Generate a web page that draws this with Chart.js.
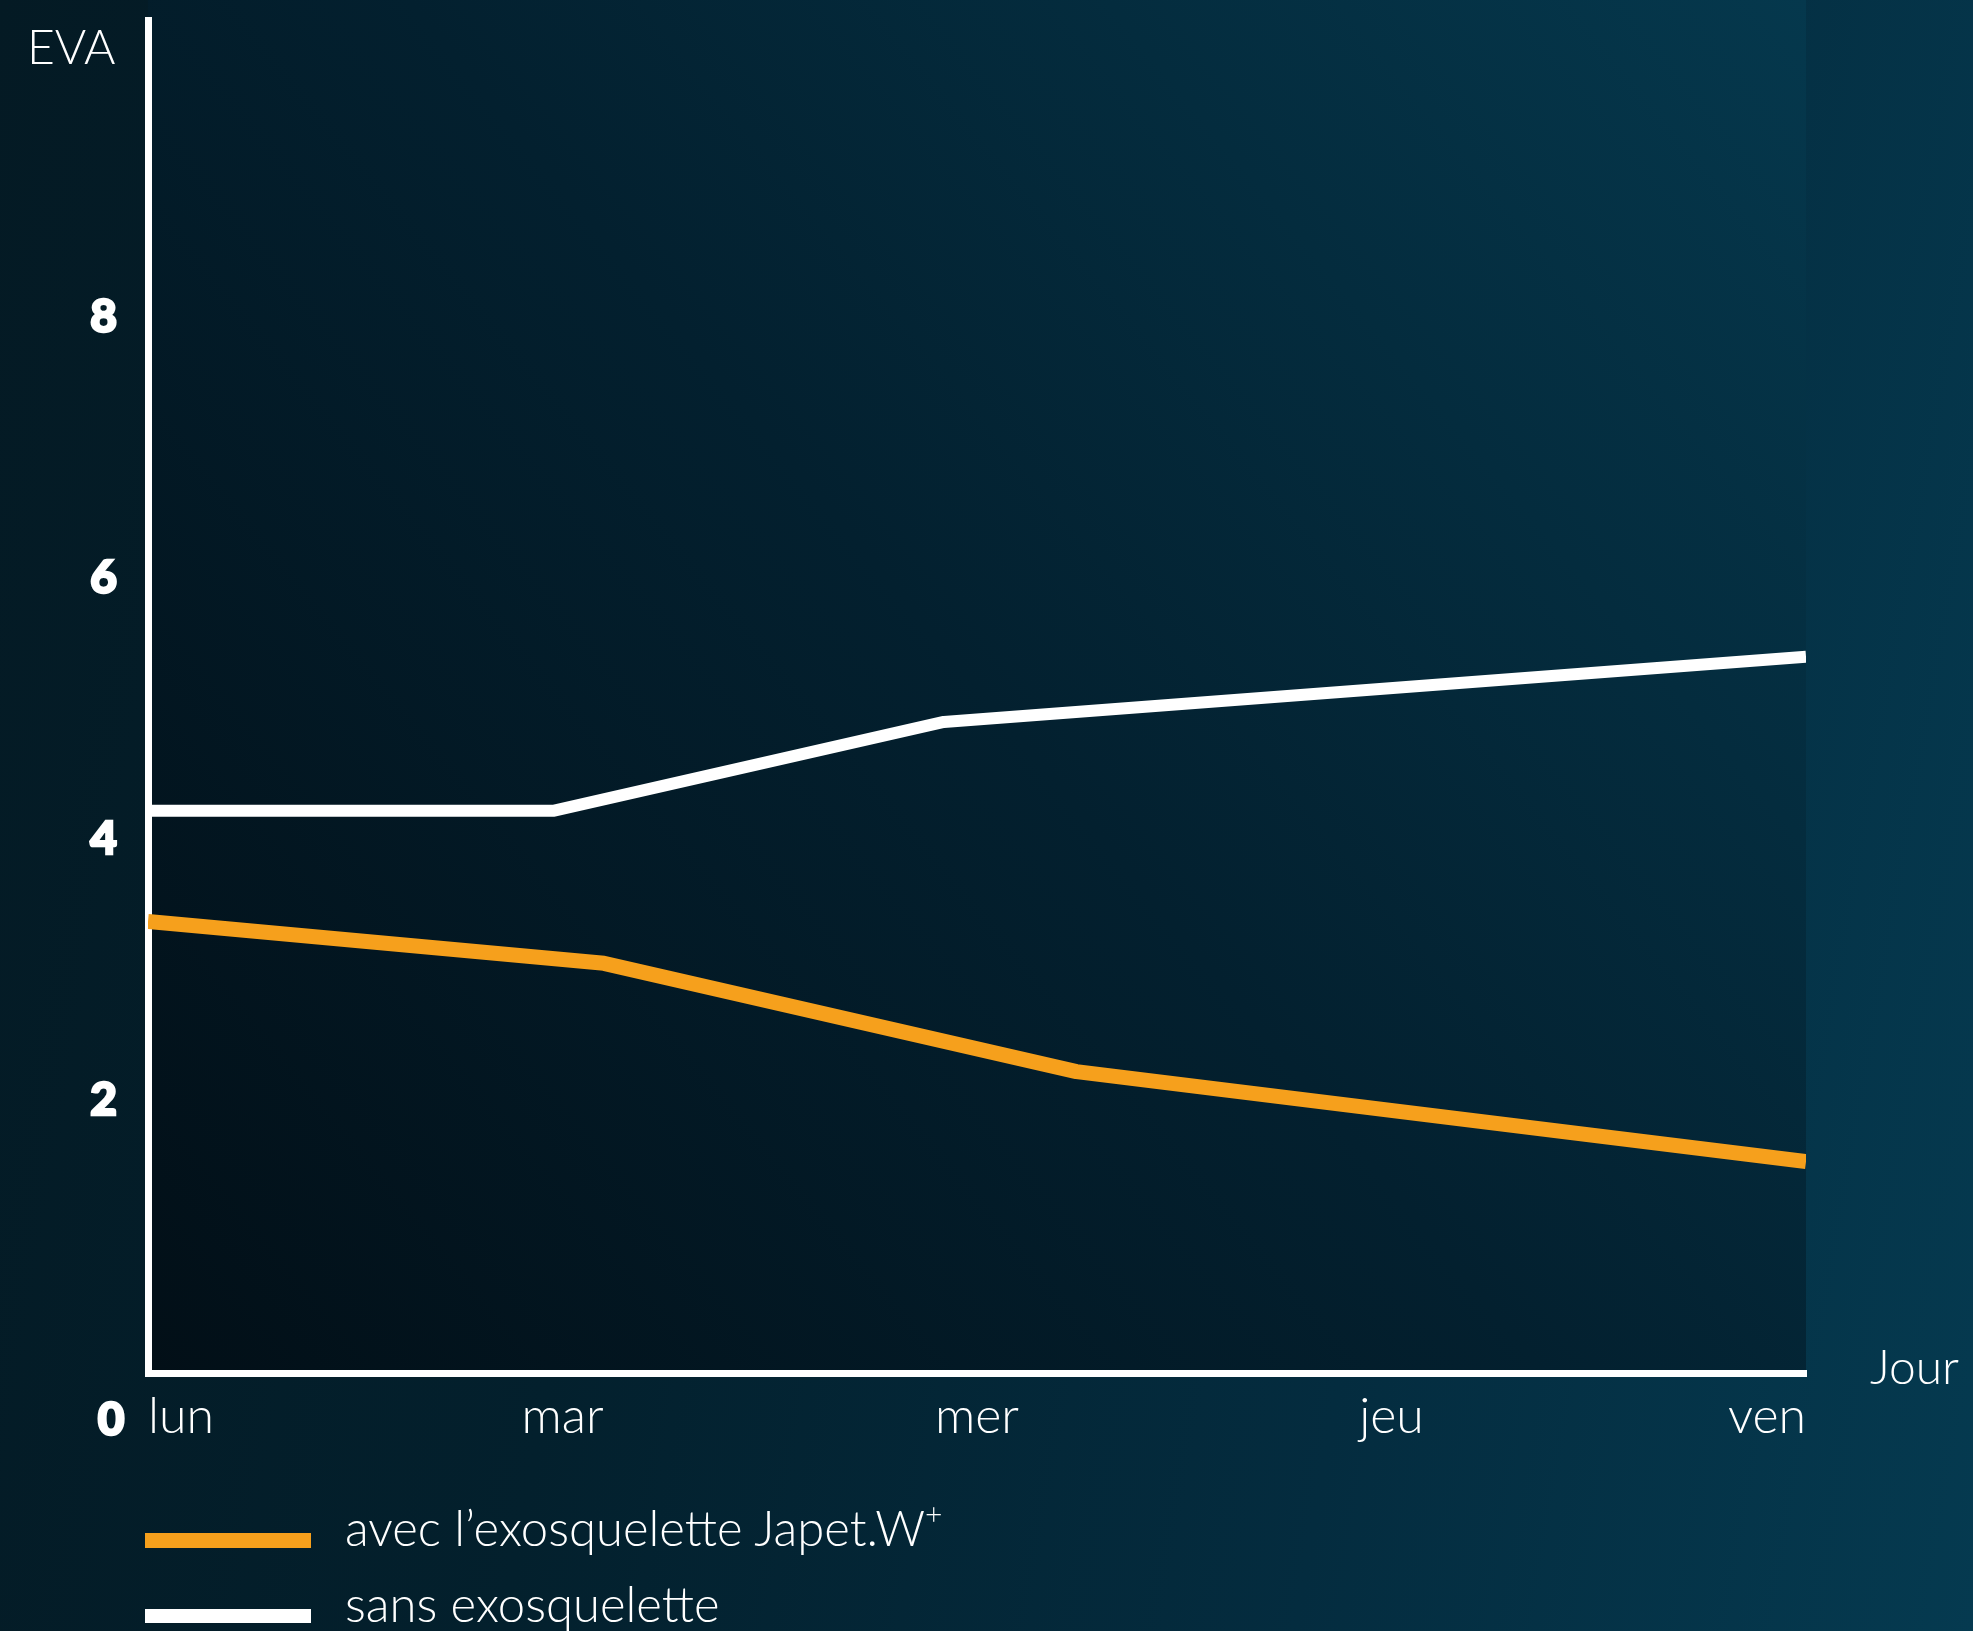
<!DOCTYPE html>
<html>

<head>
    <title>EVA | Japet.W+</title>
    <script src="https://cdn.jsdelivr.net/npm/chart.js"></script>
    <style>
        html, body { margin: 0; padding: 0; }
        body {
            width: 1973px;
            height: 1631px;
            overflow: hidden;
            position: relative;
            background: linear-gradient(100deg, #041a24 0%, #03202d 35%, #042c3f 70%, #053a50 100%);
            font-family: Lato, sans-serif;
            color: #fff;
        }
        #chart { position: absolute; left: 0; top: 0; }
        .legend-row { position: absolute; left: 145px; height: 76px; width: 1000px; }
        .legend-bar { position: absolute; left: 0; width: 166px; }
        .legend-text { position: absolute; left: 200px; font-size: 49px; font-weight: 300; line-height: 46px; white-space: nowrap; }
        .legend-text sup { font-size: 30px; line-height: 0; position: relative; top: -4px; }
    </style>
</head>

<body>
    <canvas id="chart" width="1973" height="1631"></canvas>
    <div id="legend"></div>
    <script>
        var days = ['lun', 'mar', 'mer', 'jeu', 'ven'];
        var yTicks = [2, 4, 6, 8];

        // each line is drawn through its bends (day position, EVA)
        var avecDay = [0, 1.1, 2.24, 4];
        var avecEva = [3.37, 3.05, 2.22, 1.53];
        var sansDay = [0, 0.98, 1.92, 4];
        var sansEva = [4.22, 4.22, 4.90, 5.40];

        var seriesNames = ['avec l’exosquelette Japet.W+', 'sans exosquelette'];
        var seriesColors = ['#f6a01c', '#ffffff'];

        function toPoints(xs, ys) {
            return xs.map(function (x, i) { return { x: x, y: ys[i] }; });
        }

        // dark panel behind the plot + the loose labels (EVA, Jour, 0)
        var extras = {
            id: 'extras',
            beforeDraw: function (chart) {
                var ctx = chart.ctx, a = chart.chartArea;
                var g = ctx.createLinearGradient(a.left, a.bottom, a.right, 0);
                g.addColorStop(0, '#020f17');
                g.addColorStop(0.5, '#03202f');
                g.addColorStop(1, '#05384d');
                ctx.save();
                ctx.fillStyle = g;
                ctx.fillRect(a.left, 0, a.right - a.left, a.bottom);
                ctx.restore();
            },
            afterDraw: function (chart) {
                var ctx = chart.ctx, a = chart.chartArea;
                ctx.save();
                ctx.fillStyle = '#fff';
                ctx.strokeStyle = '#fff';
                ctx.textBaseline = 'alphabetic';
                ctx.font = '300 48px Lato';
                ctx.textAlign = 'left';
                ctx.fillText('EVA', 27, 64);
                ctx.fillText('Jour', a.right + 64, 1384);
                ctx.font = '900 46px Lato';
                ctx.textAlign = 'center';
                ctx.lineWidth = 2.5;
                ctx.fillText('0', a.left - 37, 1435);
                ctx.strokeText('0', a.left - 37, 1435);
                ctx.restore();
            }
        };

        var ctx = document.getElementById('chart').getContext('2d');
        new Chart(ctx, {
            type: 'line',
            data: {
                datasets: [{
                    label: seriesNames[0],
                    data: toPoints(avecDay, avecEva),
                    borderColor: seriesColors[0],
                    borderWidth: 15
                }, {
                    label: seriesNames[1],
                    data: toPoints(sansDay, sansEva),
                    borderColor: seriesColors[1],
                    borderWidth: 12
                }]
            },
            options: {
                responsive: false,
                animation: false,
                layout: { padding: { top: 20, right: 167, bottom: 0, left: 0 } },
                plugins: {
                    legend: { display: false },
                    tooltip: { enabled: false }
                },
                elements: {
                    point: { radius: 0 },
                    line: { tension: 0, borderJoinStyle: 'round', borderCapStyle: 'butt' }
                },
                scales: {
                    x: {
                        type: 'linear',
                        min: 0,
                        max: days.length - 1,
                        grid: { display: false, drawTicks: false },
                        border: { color: '#fff', width: 7 },
                        ticks: {
                            align: 'inner',
                            padding: 14,
                            color: '#fff',
                            maxRotation: 0,
                            autoSkip: false,
                            font: { family: 'Lato', size: 50, weight: 300 },
                            callback: function (v) { return days[v]; }
                        },
                        afterBuildTicks: function (s) {
                            s.ticks = days.map(function (d, i) { return { value: i }; });
                        },
                        afterFit: function (s) {
                            s.height = 258;
                            s.paddingLeft = 0;
                            s.paddingRight = 0;
                        }
                    },
                    y: {
                        min: -0.09,
                        max: 10.28,
                        grid: { display: false, drawTicks: false },
                        border: { color: '#fff', width: 7 },
                        ticks: {
                            padding: 31,
                            color: '#fff',
                            textStrokeColor: '#fff',
                            textStrokeWidth: 2.5,
                            font: { family: 'Lato', size: 46, weight: 900 }
                        },
                        afterBuildTicks: function (s) {
                            s.ticks = yTicks.map(function (v) { return { value: v }; });
                        },
                        afterFit: function (s) {
                            s.width = 148;
                            s.paddingTop = 0;
                            s.paddingBottom = 0;
                        }
                    }
                }
            },
            plugins: [extras]
        });

        // legend stacked under the chart
        var legend = document.getElementById('legend');
        seriesNames.forEach(function (name, i) {
            var row = document.createElement('div');
            row.className = 'legend-row';
            row.style.top = (1500 + i * 76) + 'px';
            var bar = document.createElement('div');
            bar.className = 'legend-bar';
            bar.style.background = seriesColors[i];
            bar.style.top = '33px';
            bar.style.height = (i === 0 ? 15 : 14) + 'px';
            var text = document.createElement('div');
            text.className = 'legend-text';
            text.style.top = '4px';
            text.innerHTML = name.replace(/\+$/, '<sup>+</sup>');
            row.appendChild(bar);
            row.appendChild(text);
            legend.appendChild(row);
        });
    </script>
</body>

</html>
